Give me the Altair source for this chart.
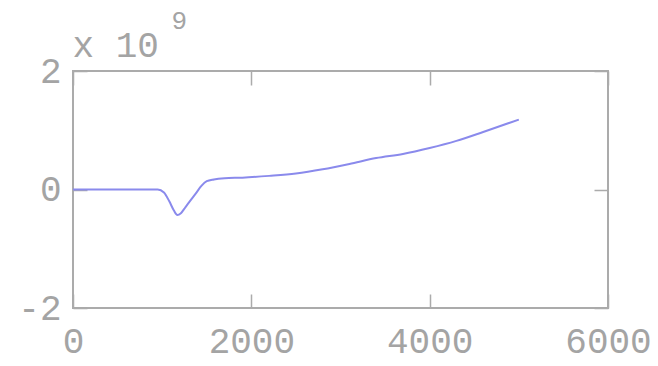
import altair as alt
import pandas as pd

# Sampled curve (x in samples, y in units of 1e9)
x_vals = [0, 200, 400, 600, 800, 950, 1020, 1080, 1130, 1170, 1210, 1260,
          1320, 1380, 1440, 1500, 1580, 1700, 1900, 2200, 2500, 2800, 3100,
          3400, 3700, 4000, 4300, 4600, 5000]
y_vals = [0, 0, 0, 0, 0, 0, -0.05, -0.2, -0.35, -0.43, -0.4, -0.3,
          -0.18, -0.06, 0.06, 0.14, 0.17, 0.19, 0.2, 0.23, 0.27, 0.34, 0.43,
          0.53, 0.6, 0.7, 0.82, 0.97, 1.18]

x_ticks = [0, 2000, 4000, 6000]
y_ticks = [-2, 0, 2]

df = pd.DataFrame({"x": x_vals, "y": y_vals})

FONT = "Liberation Mono"
GRAY = "#a4a4a4"
FRAME = "#ababab"
TICK_LEN = 14

x_scale = alt.Scale(domain=[0, 6000], nice=False, zero=False)
y_scale = alt.Scale(domain=[-2, 2], nice=False, zero=False)

common_axis = dict(
    domain=False,
    grid=False,
    tickSize=TICK_LEN,
    offset=-TICK_LEN,
    tickColor=FRAME,
    tickWidth=1.5,
    labelFont=FONT,
    labelColor=GRAY,
    labelFontSize=36,
)

bottom = alt.Axis(values=x_ticks, orient="bottom", labelPadding=16, title=None,
                  format="d", labelFlush=False, labelOverlap=False, **common_axis)
left = alt.Axis(values=y_ticks, orient="left", labelPadding=12,
                labelExpr="datum.value < 0 ? '-' + abs(datum.value) : '' + datum.value",
                labelOverlap=False, labelFlush=False,
                title="x 10", titleAngle=0, titleAlign="left", titleBaseline="alphabetic",
                titleFont=FONT, titleFontSize=36, titleFontWeight="normal",
                titleColor=GRAY, titleX=-15, titleY=-15, **common_axis)
top = alt.Axis(values=x_ticks, orient="top", labels=False, title=None, **common_axis)
right = alt.Axis(values=y_ticks, orient="right", labels=False,
                 title="9", titleAngle=0, titleAlign="left", titleBaseline="alphabetic",
                 titleFont=FONT, titleFontSize=26, titleFontWeight="normal",
                 titleColor=GRAY, titleX=-423, titleY=-43, **common_axis)

line = alt.Chart(df).mark_line(color="#8a8aec", strokeWidth=2, interpolate="monotone").encode(
    x=alt.X("x:Q", scale=x_scale, axis=bottom),
    y=alt.Y("y:Q", scale=y_scale, axis=left),
)

frame_axes = alt.Chart(df).mark_line(opacity=0).encode(
    x=alt.X("x:Q", scale=x_scale, axis=top),
    y=alt.Y("y:Q", scale=y_scale, axis=right),
)

chart = alt.layer(line, frame_axes).resolve_axis(
    x="independent", y="independent"
).properties(
    width=535,
    height=237,
    autosize=alt.AutoSizeParams(type="none"),
    padding={"left": 73, "top": 71, "right": 50, "bottom": 58},
    background="white",
).configure_view(
    stroke=FRAME,
    strokeWidth=2,
)

chart.save("out.html", embed_options={"renderer": "svg", "actions": False})
